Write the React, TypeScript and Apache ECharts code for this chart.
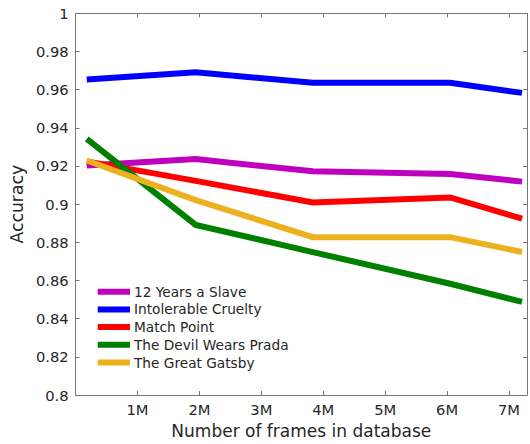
import React, { useEffect, useRef } from "react";
import * as echarts from "echarts";

const frames = [0.18, 1.94, 3.83, 6.05, 7.21]; // millions
const seriesNames = [
  "12 Years a Slave",
  "Intolerable Cruelty",
  "Match Point",
  "The Devil Wears Prada",
  "The Great Gatsby",
];
const slave = [0.9203, 0.9236, 0.9172, 0.9158, 0.9118];
const cruelty = [0.9653, 0.9691, 0.9636, 0.9636, 0.9583];
const matchPoint = [0.9224, 0.9122, 0.9009, 0.9035, 0.8924];
const prada = [0.9342, 0.8891, 0.8749, 0.8583, 0.8488];
const gatsby = [0.9229, 0.9021, 0.8827, 0.8827, 0.8749];
const colors = ["#BF00BF", "#0000FF", "#FF0000", "#008000", "#EDB120"];
const xTickLabels = ["", "1M", "2M", "3M", "4M", "5M", "6M", "7M"];

const FONT = "DejaVu Sans";
const TEXT = "#262626";
const AXIS = "#777777";

export default function App() {
  const ref = useRef<HTMLDivElement>(null);
  useEffect(() => {
    if (!ref.current) return;
    const chart = echarts.init(ref.current, undefined, { renderer: "svg" });
    const values = [slave, cruelty, matchPoint, prada, gatsby];
    const xBase = {
      type: "value",
      min: 0,
      max: 7.29,
      interval: 1,
      splitLine: { show: false },
      axisLine: { show: true, onZero: false, lineStyle: { color: AXIS, width: 1 } },
      axisTick: { show: true, inside: true, length: 4, lineStyle: { color: AXIS } },
    };
    const yBase = {
      type: "value",
      min: 0.8,
      max: 1,
      interval: 0.02,
      splitLine: { show: false },
      axisLine: { show: true, onZero: false, lineStyle: { color: AXIS, width: 1 } },
      axisTick: { show: true, inside: true, length: 4, lineStyle: { color: AXIS } },
    };
    chart.setOption({
      animation: false,
      grid: { left: 70, right: 0.7, top: 13.3, bottom: 45.7, containLabel: false },
      textStyle: { fontFamily: FONT },
      legend: {
        orient: "vertical",
        left: 97.7,
        top: 284.7,
        padding: 0,
        itemGap: 3.7,
        itemWidth: 32.3,
        itemHeight: 6,
        icon: "rect",
        data: seriesNames,
        textStyle: { fontFamily: FONT, fontSize: 13.7, color: TEXT, padding: [0, 0, 0, -1] },
      },
      xAxis: [
        {
          ...xBase,
          position: "bottom",
          name: "Number of frames in database",
          nameLocation: "middle",
          nameGap: 27,
          nameTextStyle: { fontFamily: FONT, fontSize: 17, color: TEXT },
          axisLabel: {
            show: true,
            margin: 7,
            fontFamily: FONT,
            fontSize: 14.7,
            color: TEXT,
            formatter: (v: number) => {
              const i = Math.round(v);
              if (Math.abs(v - i) > 1e-6) return "";
              return xTickLabels[i] ?? "";
            },
          },
        },
        { ...xBase, position: "top", axisLabel: { show: false } },
      ],
      yAxis: [
        {
          ...yBase,
          position: "left",
          name: "Accuracy",
          nameLocation: "middle",
          nameGap: 43.5,
          nameTextStyle: { fontFamily: FONT, fontSize: 17.2, color: TEXT },
          axisLabel: {
            show: true,
            margin: 7,
            fontFamily: FONT,
            fontSize: 14.7,
            color: TEXT,
            formatter: (v: number) => String(Math.round(v * 100) / 100),
          },
        },
        { ...yBase, position: "right", axisLabel: { show: false } },
      ],
      series: seriesNames.map((name, k) => ({
        name,
        type: "line",
        xAxisIndex: 0,
        yAxisIndex: 0,
        data: frames.map((x, i) => [x, values[k][i]]),
        showSymbol: false,
        symbol: "none",
        color: colors[k],
        lineStyle: { color: colors[k], width: 6, cap: "butt", join: "miter" },
      })),
    });
    return () => chart.dispose();
  }, []);
  return (
    <div
      ref={ref}
      style={{ position: "fixed", left: 0, top: 0, width: 530, height: 444, background: "#fff" }}
    />
  );
}
